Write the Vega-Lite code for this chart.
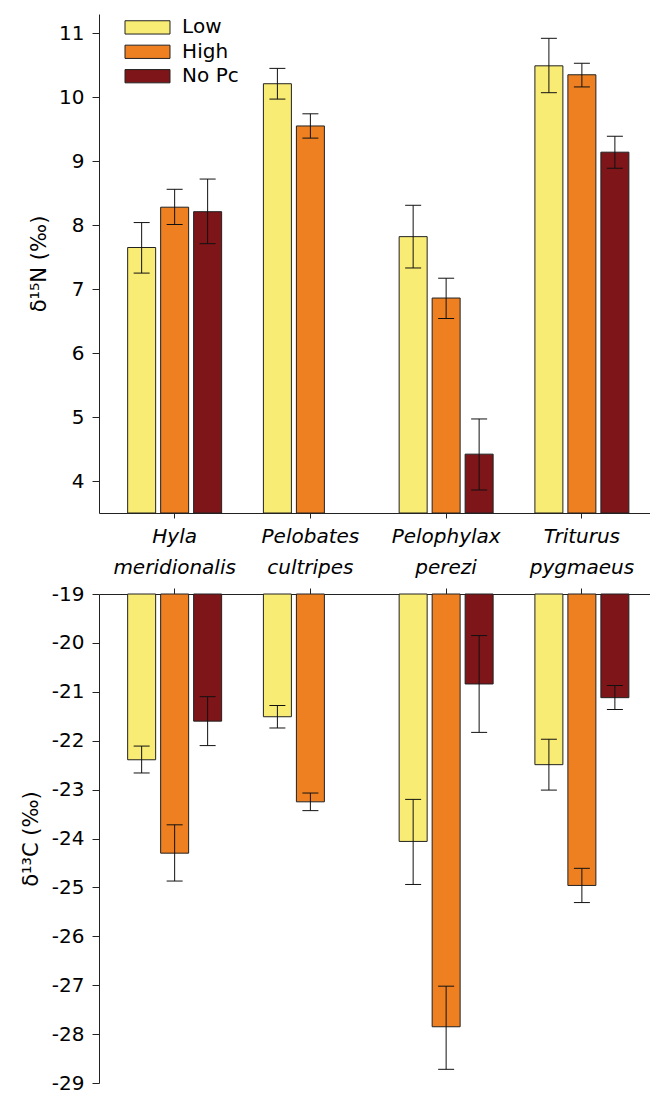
{
  "$schema": "https://vega.github.io/schema/vega-lite/v6.json",
  "padding": {"left": 20, "top": 14, "right": 0, "bottom": 0},
  "background": "white",
  "bounds": "flush",
  "spacing": 81,
  "config": {
    "font": "DejaVu Sans",
    "view": {"stroke": null},
    "axis": {
      "grid": false,
      "domainColor": "#222",
      "tickColor": "#222",
      "labelColor": "#000",
      "titleColor": "#000",
      "labelFont": "DejaVu Sans",
      "titleFont": "DejaVu Sans",
      "labelFontSize": 20,
      "titleFontSize": 21,
      "titleFontWeight": "normal"
    }
  },
  "datasets": {
    "n15": [
      {"species": "Hyla meridionalis", "treatment": "Low", "mean": 7.65, "lo": 7.25, "hi": 8.04},
      {"species": "Hyla meridionalis", "treatment": "High", "mean": 8.28, "lo": 8.01, "hi": 8.56},
      {"species": "Hyla meridionalis", "treatment": "No Pc", "mean": 8.21, "lo": 7.71, "hi": 8.72},
      {"species": "Pelobates cultripes", "treatment": "Low", "mean": 10.21, "lo": 9.97, "hi": 10.45},
      {"species": "Pelobates cultripes", "treatment": "High", "mean": 9.55, "lo": 9.36, "hi": 9.74},
      {"species": "Pelophylax perezi", "treatment": "Low", "mean": 7.82, "lo": 7.33, "hi": 8.31},
      {"species": "Pelophylax perezi", "treatment": "High", "mean": 6.86, "lo": 6.54, "hi": 7.17},
      {"species": "Pelophylax perezi", "treatment": "No Pc", "mean": 4.42, "lo": 3.86, "hi": 4.97},
      {"species": "Triturus pygmaeus", "treatment": "Low", "mean": 10.49, "lo": 10.07, "hi": 10.92},
      {"species": "Triturus pygmaeus", "treatment": "High", "mean": 10.35, "lo": 10.16, "hi": 10.53},
      {"species": "Triturus pygmaeus", "treatment": "No Pc", "mean": 9.14, "lo": 8.89, "hi": 9.39}
    ],
    "c13": [
      {"species": "Hyla meridionalis", "treatment": "Low", "mean": -22.39, "lo": -22.66, "hi": -22.11},
      {"species": "Hyla meridionalis", "treatment": "High", "mean": -24.30, "lo": -24.87, "hi": -23.72},
      {"species": "Hyla meridionalis", "treatment": "No Pc", "mean": -21.60, "lo": -22.10, "hi": -21.10},
      {"species": "Pelobates cultripes", "treatment": "Low", "mean": -21.51, "lo": -21.74, "hi": -21.28},
      {"species": "Pelobates cultripes", "treatment": "High", "mean": -23.25, "lo": -23.43, "hi": -23.07},
      {"species": "Pelophylax perezi", "treatment": "Low", "mean": -24.06, "lo": -24.94, "hi": -23.20},
      {"species": "Pelophylax perezi", "treatment": "High", "mean": -27.85, "lo": -28.72, "hi": -27.02},
      {"species": "Pelophylax perezi", "treatment": "No Pc", "mean": -20.84, "lo": -21.83, "hi": -19.85},
      {"species": "Triturus pygmaeus", "treatment": "Low", "mean": -22.49, "lo": -23.01, "hi": -21.97},
      {"species": "Triturus pygmaeus", "treatment": "High", "mean": -24.96, "lo": -25.31, "hi": -24.61},
      {"species": "Triturus pygmaeus", "treatment": "No Pc", "mean": -21.12, "lo": -21.36, "hi": -20.87}
    ]
  },
  "resolve": {"scale": {"color": "independent"}, "legend": {"color": "independent"}},
  "vconcat": [
    {
      "width": 551,
      "height": 499,
      "data": {"name": "n15"},
      "encoding": {
        "x": {
          "field": "species", "type": "nominal",
          "sort": ["Hyla meridionalis", "Pelobates cultripes", "Pelophylax perezi", "Triturus pygmaeus"],
          "scale": {"paddingInner": 0, "paddingOuter": 0.0295, "align": 0.97},
          "axis": {
            "orient": "bottom", "title": null, "labelAngle": 0,
            "labelExpr": "split(datum.label, ' ')",
            "labelFontStyle": "italic", "labelFontSize": 20, "labelLineHeight": 31,
            "labelPadding": 8, "tickSize": 5, "labelBaseline": "top"
          }
        },
        "xOffset": {
          "field": "treatment", "type": "nominal", "sort": ["Low", "High", "No Pc"],
          "scale": {"paddingInner": 0.1515, "paddingOuter": 0.633}
        }
      },
      "layer": [
        {
          "mark": {"type": "bar", "stroke": "#222", "strokeWidth": 1, "opacity": 1},
          "encoding": {
            "y": {
              "field": "mean", "type": "quantitative",
              "scale": {"domain": [3.5, 11.3], "zero": false, "nice": false},
              "axis": {"values": [4, 5, 6, 7, 8, 9, 10, 11], "format": "d", "title": "δ¹⁵N (‰)", "tickSize": 7, "labelPadding": 8, "titlePadding": 9}
            },
            "y2": {"datum": 3.5},
            "color": {
              "field": "treatment", "type": "nominal",
              "scale": {"domain": ["Low", "High", "No Pc"], "range": ["#F9EC74", "#EE8022", "#7E1519"]},
              "legend": {
                "orient": "none", "legendX": 36.5, "legendY": 1.4, "title": null,
                "symbolType": "M-2,-0.59H2V0.59H-2Z", "symbolSize": 506,
                "symbolStrokeColor": "#222", "symbolStrokeWidth": 1, "symbolOpacity": 1,
                "labelFont": "DejaVu Sans", "labelFontSize": 20, "labelColor": "#000", "labelOffset": 22.6, "rowPadding": 2.4
              }
            }
          }
        },
        {
          "mark": {"type": "rule", "color": "#111", "strokeWidth": 1},
          "encoding": {"y": {"field": "lo", "type": "quantitative"}, "y2": {"field": "hi"}}
        },
        {
          "mark": {"type": "tick", "color": "#111", "size": 16, "thickness": 1, "opacity": 1},
          "encoding": {"y": {"field": "lo", "type": "quantitative"}}
        },
        {
          "mark": {"type": "tick", "color": "#111", "size": 16, "thickness": 1, "opacity": 1},
          "encoding": {"y": {"field": "hi", "type": "quantitative"}}
        }
      ]
    },
    {
      "width": 551,
      "height": 489,
      "data": {"name": "c13"},
      "encoding": {
        "x": {
          "field": "species", "type": "nominal",
          "sort": ["Hyla meridionalis", "Pelobates cultripes", "Pelophylax perezi", "Triturus pygmaeus"],
          "scale": {"paddingInner": 0, "paddingOuter": 0.0295, "align": 0.97},
          "axis": {"orient": "top", "title": null, "labels": false, "tickSize": 6}
        },
        "xOffset": {
          "field": "treatment", "type": "nominal", "sort": ["Low", "High", "No Pc"],
          "scale": {"paddingInner": 0.1515, "paddingOuter": 0.633}
        }
      },
      "layer": [
        {
          "mark": {"type": "bar", "stroke": "#222", "strokeWidth": 1, "opacity": 1},
          "encoding": {
            "y": {
              "field": "mean", "type": "quantitative",
              "scale": {"domain": [-29, -19], "zero": false, "nice": false},
              "axis": {"values": [-29, -28, -27, -26, -25, -24, -23, -22, -21, -20, -19], "labelExpr": "'' + datum.value", "title": "δ¹³C (‰)", "tickSize": 7, "labelPadding": 8, "titlePadding": 10}
            },
            "y2": {"datum": -19},
            "color": {
              "field": "treatment", "type": "nominal",
              "scale": {"domain": ["Low", "High", "No Pc"], "range": ["#F9EC74", "#EE8022", "#7E1519"]},
              "legend": null
            }
          }
        },
        {
          "mark": {"type": "rule", "color": "#111", "strokeWidth": 1},
          "encoding": {"y": {"field": "lo", "type": "quantitative"}, "y2": {"field": "hi"}}
        },
        {
          "mark": {"type": "tick", "color": "#111", "size": 16, "thickness": 1, "opacity": 1},
          "encoding": {"y": {"field": "lo", "type": "quantitative"}}
        },
        {
          "mark": {"type": "tick", "color": "#111", "size": 16, "thickness": 1, "opacity": 1},
          "encoding": {"y": {"field": "hi", "type": "quantitative"}}
        }
      ]
    }
  ]
}
